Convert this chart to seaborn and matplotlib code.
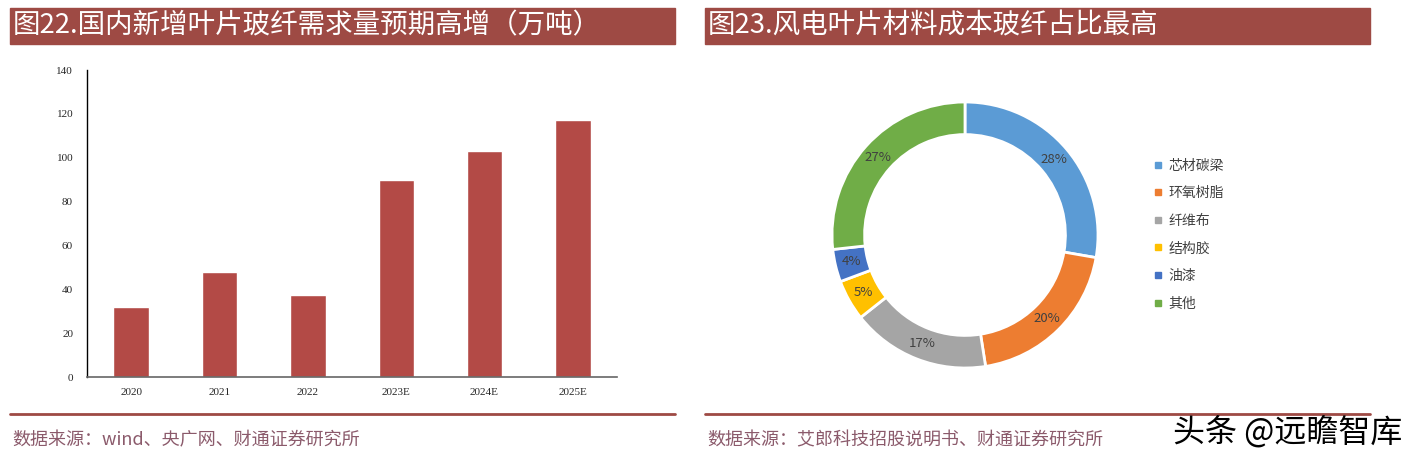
import matplotlib
matplotlib.use("Agg")
import matplotlib.pyplot as plt
import seaborn as sns
import numpy as np
from matplotlib.patches import Rectangle
from matplotlib.lines import Line2D

sns.set_theme(style="white")
plt.rcParams['font.family'] = ['Noto Sans CJK SC', 'DejaVu Sans']

# ---- data ----
years = ["2020", "2021", "2022", "2023E", "2024E", "2025E"]
demand = [32, 48, 37.5, 90, 103, 117]
yticks = [0, 20, 40, 60, 80, 100, 120, 140]

materials = ["芯材碳梁", "环氧树脂", "纤维布", "结构胶", "油漆", "其他"]
shares = [28, 20, 17, 5, 4, 27]
share_labels = ["28%", "20%", "17%", "5%", "4%", "27%"]
pie_colors = ["#5B9BD5", "#ED7D31", "#A5A5A5", "#FFC000", "#4472C4", "#70AD47"]

title_left = "图22.国内新增叶片玻纤需求量预期高增（万吨）"
title_right = "图23.风电叶片材料成本玻纤占比最高"
src_left = "数据来源：wind、央广网、财通证券研究所"
src_right = "数据来源：艾郎科技招股说明书、财通证券研究所"
watermark = "头条 @远瞻智库"

W, H = 1418, 461
fig = plt.figure(figsize=(W / 100, H / 100), dpi=100)
fig.patch.set_facecolor("white")

def fx(x): return x / W
def fy(y): return 1 - y / H

brown = "#9E4A44"
# title bars
for x0, x1, t in [(10, 675, title_left), (705, 1370, title_right)]:
    fig.patches.append(Rectangle((fx(x0), fy(44)), fx(x1 - x0), (44 - 8) / H,
                                 transform=fig.transFigure, color=brown, zorder=0))
    fig.text(fx(x0 + 3), fy(26), t, color="white", fontsize=19.8, va="center", ha="left",
             family=['Noto Sans CJK SC', 'DejaVu Sans'])

# footer lines and sources
for x0, x1, s in [(10, 675, src_left), (705, 1370, src_right)]:
    fig.add_artist(Line2D([fx(x0), fx(x1)], [fy(414), fy(414)], transform=fig.transFigure,
                          color=brown, lw=2))
    fig.text(fx(x0 + 2), fy(440), s, color="#8B5A6B", fontsize=13, va="center", ha="left",
             family=['Noto Sans CJK SC', 'DejaVu Sans'])

fig.text(fx(1402), fy(432), watermark, color="black", fontsize=23, va="center", ha="right",
         family=['Noto Sans CJK SC', 'DejaVu Sans'])

# ---- bar chart ----
ax = fig.add_axes([fx(87), fy(377), fx(617 - 87), (377 - 70) / H])
sns.barplot(x=years, y=demand, color="#B34A46", width=0.4, ax=ax, saturation=1)
ax.set_ylim(0, 140)
ax.set_xlim(-0.5, len(years) - 0.5)
ax.set_yticks(yticks)
ax.set_yticklabels([str(v) for v in yticks], family="Liberation Serif", fontsize=8)
ax.set_xticks(range(len(years)))
ax.set_xticklabels(years, family="Liberation Serif", fontsize=8)
ax.set_xticks(np.arange(-0.5, len(years)), minor=True)
ax.tick_params(axis="x", which="major", length=0, pad=8)
ax.tick_params(axis="x", which="minor", length=4, color="#555555", direction="out")
ax.tick_params(axis="y", length=4, direction="out", color="black", pad=6)
for s in ["top", "right"]:
    ax.spines[s].set_visible(False)
ax.spines["left"].set_color("black")
ax.spines["left"].set_linewidth(1)
ax.spines["bottom"].set_color("#666666")
ax.spines["bottom"].set_linewidth(1.2)
ax.set_xlabel("")
ax.set_ylabel("")
ax.grid(False)

# ---- donut chart ----
cx, cy, r = 965, 235, 133
pax = fig.add_axes([fx(cx - r), fy(cy + r), 2 * r / W, 2 * r / H])
wedges, texts = pax.pie(shares, colors=pie_colors, startangle=90, counterclock=False,
                        radius=1, wedgeprops=dict(width=0.245, edgecolor="white", linewidth=2),
                        labels=share_labels, labeldistance=0.877)
for t in texts:
    t.set_ha("center")
    t.set_va("center")
    t.set_color("#404040")
    t.set_fontsize(9.5)
pax.set_xlim(-1, 1)
pax.set_ylim(-1, 1)
pax.set_aspect("auto")
pax.axis("off")

handles = [Line2D([0], [0], marker="s", linestyle="", markersize=5, markerfacecolor=c,
                  markeredgecolor=c) for c in pie_colors]
fig.legend(handles, materials, loc="upper left", bbox_to_anchor=(fx(1139), fy(146)),
           frameon=False, fontsize=10, handletextpad=0.2, labelspacing=0.98,
           handlelength=1.0, labelcolor="#404040")

fig.savefig("out.png", dpi=100)
